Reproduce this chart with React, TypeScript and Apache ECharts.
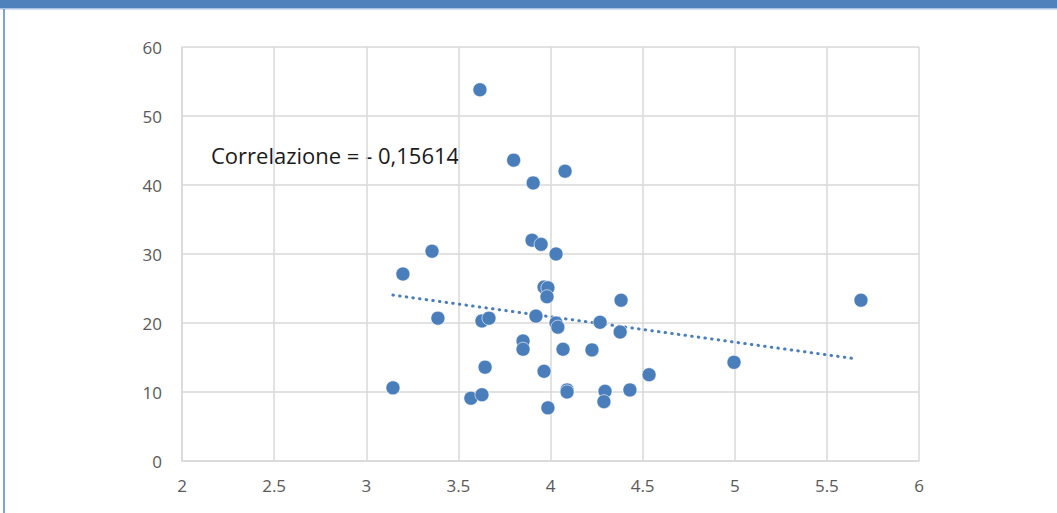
import React, { useEffect, useRef } from "react";
import * as echarts from "echarts";

const xValues = [
  3.617, 3.8, 3.906, 4.079, 3.9, 3.949, 4.03, 3.357, 3.199, 3.965, 3.986, 3.981, 4.383, 5.685,
  3.389, 3.628, 3.666, 3.921, 4.03, 4.04, 4.269, 4.378, 3.851, 3.851, 4.068, 4.225, 4.996,
  3.645, 3.965, 4.535, 3.145, 4.09, 4.09, 4.296, 4.431, 4.29, 3.568, 3.628, 3.986,
];
const yValues = [
  53.8, 43.6, 40.3, 42.0, 32.0, 31.4, 30.0, 30.4, 27.1, 25.2, 25.1, 23.8, 23.3, 23.3,
  20.7, 20.3, 20.7, 21.0, 20.0, 19.4, 20.1, 18.7, 17.4, 16.2, 16.2, 16.1, 14.3,
  13.6, 13.0, 12.5, 10.6, 10.3, 10.0, 10.1, 10.3, 8.6, 9.1, 9.6, 7.7,
];
const trendX = [3.145, 5.66];
const trendY = [24.05, 14.8];
const correlationLabel = "Correlazione = - 0,15614";

export default function App() {
  const ref = useRef<HTMLDivElement>(null);
  useEffect(() => {
    if (!ref.current) return;
    const chart = echarts.init(ref.current, null, { renderer: "svg" });
    const points = xValues.map((x, i) => [x, yValues[i]]);
    const trend = trendX.map((x, i) => [x, trendY[i]]);
    const grid = "#d9d9d9";
    chart.setOption({
      animation: false,
      backgroundColor: "#ffffff",
      grid: { left: 182, right: 138, top: 47, bottom: 52 },
      xAxis: {
        type: "value",
        min: 2,
        max: 6,
        interval: 0.5,
        axisLine: { show: true, lineStyle: { color: grid, width: 1.5 } },
        axisTick: { show: false },
        splitLine: { show: true, lineStyle: { color: grid, width: 1.5 } },
        axisLabel: { color: "#595959", fontSize: 17, fontFamily: "Open Sans", margin: 16 },
      },
      yAxis: {
        type: "value",
        min: 0,
        max: 60,
        interval: 10,
        axisLine: { show: true, lineStyle: { color: grid, width: 1.5 } },
        axisTick: { show: false },
        splitLine: { show: true, lineStyle: { color: grid, width: 1.5 } },
        axisLabel: { color: "#595959", fontSize: 17, fontFamily: "Open Sans", margin: 20 },
      },
      series: [
        {
          type: "line",
          data: trend,
          symbol: "none",
          lineStyle: { color: "#4a7ebb", width: 3, type: [0.5, 6.2], cap: "round" },
          z: 3,
        },
        {
          type: "scatter",
          data: points,
          symbolSize: 14,
          itemStyle: { color: "#4a7ebb", opacity: 1, borderColor: "#ffffff", borderWidth: 0.6 },
          z: 4,
        },
      ],
      graphic: [
        { type: "rect", shape: { x: 0, y: 0, width: 1057, height: 8 }, style: { fill: "#4f81bd" } },
        { type: "rect", shape: { x: 0, y: 8, width: 1057, height: 1.5 }, style: { fill: "#a9c1e3" } },
        { type: "rect", shape: { x: 3, y: 9, width: 2, height: 504 }, style: { fill: "#7fa3d6" } },
        {
          type: "text",
          x: 211,
          y: 155,
          style: {
            text: correlationLabel,
            fontSize: 22,
            fontFamily: "Open Sans",
            fill: "#1a1a1a",
            verticalAlign: "middle",
          },
        },
      ],
    });
    return () => chart.dispose();
  }, []);
  return (
    <div
      ref={ref}
      style={{ position: "absolute", left: 0, top: 0, width: 1057, height: 513 }}
    />
  );
}
